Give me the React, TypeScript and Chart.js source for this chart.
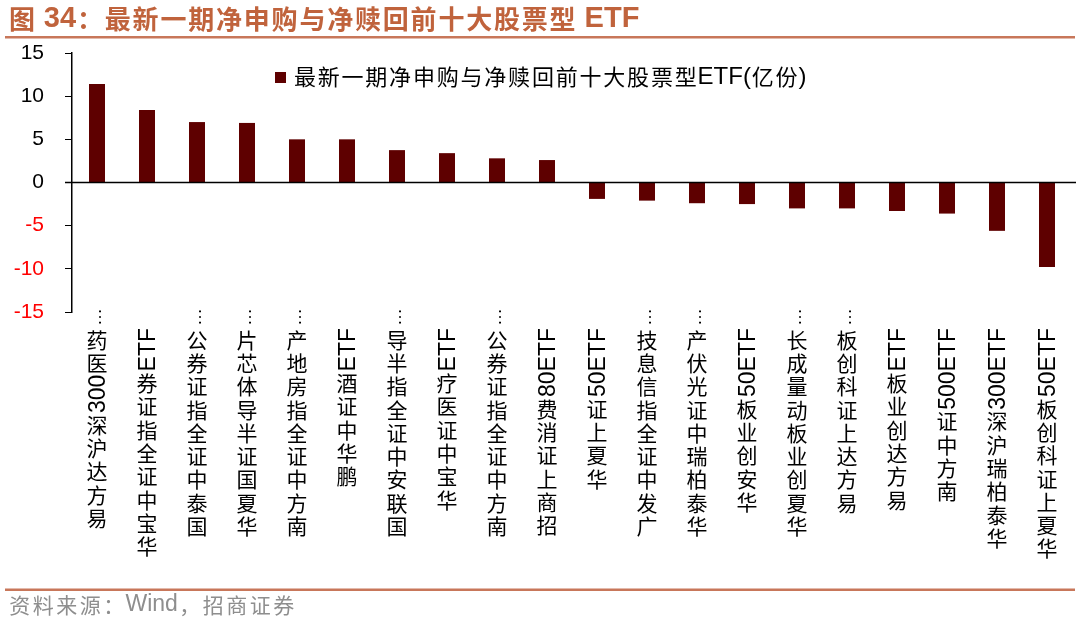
import React, { useEffect, useRef } from "react";
import { Chart, registerables } from "chart.js";

Chart.register(...registerables);

const titleText = "图 34：最新一期净申购与净赎回前十大股票型 ETF";
const sourceText = "资料来源：Wind，招商证券";
const seriesName = "最新一期净申购与净赎回前十大股票型ETF(亿份)";

const categories = [
  "易方达沪深300医药…",
  "华宝中证全指证券ETF",
  "国泰中证全指证券公…",
  "华夏国证半导体芯片…",
  "南方中证全指房地产…",
  "鹏华中证酒ETF",
  "国联安中证全指半导…",
  "华宝中证医疗ETF",
  "南方中证全指证券公…",
  "招商上证消费80ETF",
  "华夏上证50ETF",
  "广发中证全指信息技…",
  "华泰柏瑞中证光伏产…",
  "华安创业板50ETF",
  "华夏创业板动量成长…",
  "易方达上证科创板…",
  "易方达创业板ETF",
  "南方中证500ETF",
  "华泰柏瑞沪深300ETF",
  "华夏上证科创板50ETF",
];

const netFlow = [
  11.4, 8.4, 7.0, 6.9, 5.0, 5.0, 3.75, 3.4, 2.8, 2.6,
  -1.9, -2.1, -2.4, -2.5, -3.0, -3.0, -3.3, -3.6, -5.6, -9.8,
];

const yMin = -15;
const yMax = 15;
const yStep = 5;

const BAR_COLOR = "#5E0000";
const ACCENT = "#C0633C";
const RULE = "#C8775A";
const LATIN = "'Liberation Sans', Arial, sans-serif";
const CJK = "'Noto Sans CJK SC', sans-serif";

type Tok = { t: string; latin: boolean };

function tokenize(s: string): Tok[] {
  const out: Tok[] = [];
  let buf = "";
  for (const ch of s) {
    if (/[A-Za-z0-9() ]/.test(ch)) {
      buf += ch;
    } else {
      if (buf) {
        out.push({ t: buf, latin: true });
        buf = "";
      }
      out.push({ t: ch, latin: ch === "…" });
    }
  }
  if (buf) out.push({ t: buf, latin: true });
  return out;
}

type RowOpts = { cjk: string; latin: string; pitch: number; color: string };

function drawRow(ctx: CanvasRenderingContext2D, text: string, x: number, y: number, o: RowOpts) {
  ctx.save();
  ctx.fillStyle = o.color;
  ctx.textBaseline = "middle";
  ctx.textAlign = "left";
  let cx = x;
  for (const tk of tokenize(text)) {
    if (tk.latin) {
      ctx.font = o.latin;
      ctx.fillText(tk.t, cx, y);
      cx += ctx.measureText(tk.t).width;
    } else {
      ctx.font = o.cjk;
      const w = ctx.measureText(tk.t).width;
      ctx.fillText(tk.t, cx + (o.pitch - w) / 2, y);
      cx += o.pitch;
    }
  }
  ctx.restore();
  return cx;
}

function drawVertical(
  ctx: CanvasRenderingContext2D,
  text: string,
  x: number,
  y0: number,
  latinSize: number,
  cjkSize: number,
  pitch: number,
  color: string
) {
  ctx.save();
  ctx.fillStyle = color;
  let toks = tokenize(text);
  const capOff = latinSize * 0.716 / 2;
  if (toks.length && toks[toks.length - 1].t === "…") {
    toks = toks.slice(0, -1);
    ctx.font = `18px ${LATIN}`;
    ctx.save();
    ctx.translate(x, y0 - 2);
    ctx.rotate(-Math.PI / 2);
    ctx.textAlign = "left";
    ctx.textBaseline = "alphabetic";
    ctx.fillText("…", 0, 4);
    ctx.restore();
  }
  let cy = y0;
  for (let i = toks.length - 1; i >= 0; i--) {
    const tk = toks[i];
    if (tk.latin) {
      ctx.font = `${latinSize}px ${LATIN}`;
      const w = ctx.measureText(tk.t).width;
      ctx.save();
      ctx.translate(x, cy + w);
      ctx.rotate(-Math.PI / 2);
      ctx.textAlign = "left";
      ctx.textBaseline = "alphabetic";
      ctx.fillText(tk.t, 0, capOff);
      ctx.restore();
      cy += w;
    } else {
      ctx.font = `${cjkSize}px ${CJK}`;
      ctx.textAlign = "center";
      ctx.textBaseline = "middle";
      ctx.fillText(tk.t, x, cy + pitch / 2);
      cy += pitch;
    }
  }
  ctx.restore();
}

const decorPlugin = {
  id: "decor",
  afterDatasetsDraw(chart: any) {
    const ctx: CanvasRenderingContext2D = chart.ctx;
    const y = chart.scales.y.getPixelForValue(0);
    const { left, right } = chart.chartArea;
    ctx.save();
    ctx.strokeStyle = "#000";
    ctx.lineWidth = 1.5;
    ctx.beginPath();
    ctx.moveTo(left - 7, y);
    ctx.lineTo(right + 4, y);
    ctx.stroke();
    ctx.restore();
  },
  afterDraw(chart: any) {
    const ctx: CanvasRenderingContext2D = chart.ctx;
    const xs = chart.scales.x;
    // category labels
    categories.forEach((lab, i) => {
      const x = xs.getPixelForValue(i);
      drawVertical(ctx, lab, x, 328, 23, 21, 23.3, "#000");
    });
    // legend
    ctx.save();
    ctx.fillStyle = BAR_COLOR;
    ctx.fillRect(275, 72, 11, 11);
    ctx.restore();
    drawRow(ctx, seriesName, 293, 77, {
      cjk: `22px ${CJK}`,
      latin: `24px ${LATIN}`,
      pitch: 23.8,
      color: "#000",
    });
    // title
    drawRow(ctx, titleText, 8, 19, {
      cjk: `bold 26px ${CJK}`,
      latin: `bold 29px ${LATIN}`,
      pitch: 27.8,
      color: ACCENT,
    });
    ctx.save();
    ctx.fillStyle = RULE;
    ctx.fillRect(5, 36, 1070, 2.5);
    ctx.fillRect(5, 588.5, 1070, 2.5);
    ctx.restore();
    // source
    drawRow(ctx, sourceText, 8, 605, {
      cjk: `21px ${CJK}`,
      latin: `23px ${LATIN}`,
      pitch: 23.5,
      color: "#8E8E8E",
    });
  },
};

export default function App() {
  const ref = useRef<HTMLCanvasElement | null>(null);

  useEffect(() => {
    document.body.style.margin = "0";
    const canvas = ref.current;
    if (!canvas) return;
    const chart = new Chart(canvas, {
      type: "bar",
      data: {
        labels: categories,
        datasets: [
          {
            label: seriesName,
            data: netFlow,
            backgroundColor: BAR_COLOR,
            borderWidth: 0,
            barPercentage: 0.32,
            categoryPercentage: 1,
          },
        ],
      },
      options: {
        responsive: false,
        animation: false,
        devicePixelRatio: 1,
        layout: { padding: { left: 0, right: 8, top: 53, bottom: 0 } },
        plugins: {
          legend: { display: false },
          title: { display: false },
          tooltip: { enabled: false },
        },
        scales: {
          x: {
            grid: { display: false },
            border: { display: false },
            ticks: { display: false },
            afterFit: (scale: any) => {
              scale.height = 311;
            },
          },
          y: {
            min: yMin,
            max: yMax,
            afterFit: (scale: any) => {
              scale.width = 72;
            },
            ticks: {
              stepSize: yStep,
              padding: 21,
              font: { family: LATIN, size: 21 },
              color: (c: any) => (c.tick && c.tick.value < 0 ? "#FF0000" : "#000000"),
            },
            grid: {
              drawOnChartArea: false,
              drawTicks: true,
              tickLength: 7,
              color: "#000",
              lineWidth: 1,
            },
            border: { display: true, color: "#000", width: 1.5 },
          },
        },
      },
      plugins: [decorPlugin],
    });
    return () => chart.destroy();
  }, []);

  return (
    <div style={{ position: "fixed", left: 0, top: 0, width: 1080, height: 623, background: "#fff" }}>
      <canvas ref={ref} width={1080} height={623} style={{ display: "block" }} />
    </div>
  );
}
